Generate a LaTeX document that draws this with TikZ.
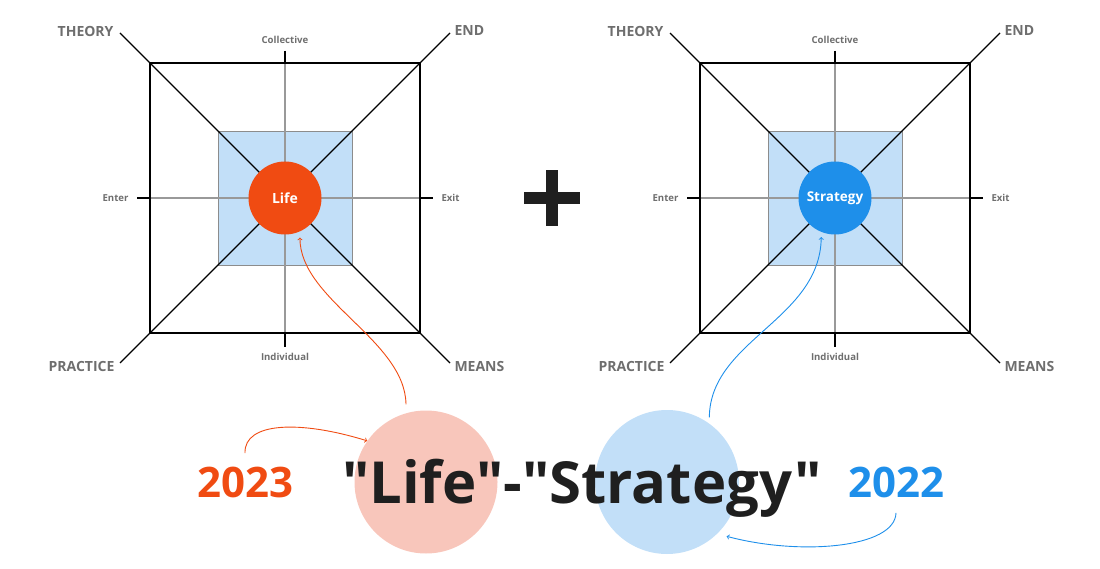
\documentclass[tikz,border=0pt]{standalone}
\usepackage{fontspec}
\setmainfont[Ligatures=TeXOff]{Open Sans}

\definecolor{naranja}{HTML}{F04B12}
\definecolor{azul}{HTML}{1E8FEA}
\definecolor{celeste}{HTML}{C2DFF8}
\definecolor{rosa}{HTML}{F8C6BB}
\definecolor{gristexto}{HTML}{6E6E6E}

\tikzset{
  eje/.style={line width=1.2pt, gray!80},
  marco/.style={line width=1.2pt, black},
  etiqueta/.style={font=\fontsize{9.6}{9.6}\selectfont\bfseries, text=gristexto},
  polo/.style={font=\fontsize{14}{14}\selectfont\bfseries, text=gristexto},
  centro/.style={circle, minimum size=73, inner sep=0, text=white},
  flecha/.style={->, line width=0.9pt}
}

\begin{document}
\begin{tikzpicture}[x=1pt, y=-1pt]
\useasboundingbox (0,0) rectangle (1100,569);

% ── Los dos cuadros (Life / Strategy) ─────────────────────────
\foreach \cx/\nm/\txt/\col/\tam in {285/life/Life/naranja/14, 835/strat/Strategy/azul/13.5} {
  \begin{scope}[shift={(\cx,198)}]
    % cuadro interior
    \fill[celeste] (-67,-67) rectangle (67,67);
    \draw[gray!90, line width=0.9pt] (-67,-67) rectangle (67,67);
    % ejes
    \draw[eje] (-148,0) -- (148,0);
    \draw[eje] (0,-147) -- (0,149);
    \draw[marco] (-148,0) -- (-135,0);
    \draw[marco] (135,0) -- (148,0);
    \draw[marco] (0,-147) -- (0,-135);
    \draw[marco] (0,135) -- (0,149);
    % diagonales
    \draw[marco] (-165,-165) -- (165,165);
    \draw[marco] (-165,165) -- (165,-165);
    % cuadro exterior
    \draw[marco] (-135,-135) rectangle (135,135);
    % círculo central
    \node[centro, fill=\col, font=\fontsize{\tam}{\tam}\selectfont\bfseries] (\nm) at (0,0) {\txt};
    % etiquetas de los ejes
    \node[etiqueta] (\nm-col) at (0,-158) {Collective};
    \node[etiqueta] (\nm-ind) at (0,159) {Individual};
    \node[etiqueta, anchor=east] (\nm-ent) at (-153,0) {Enter};
    \node[etiqueta, anchor=west] (\nm-exi) at (153,0) {Exit};
    % etiquetas de las diagonales
    \node[polo, anchor=east] (\nm-teo) at (-168,-167) {THEORY};
    \node[polo, anchor=west] (\nm-fin) at (166,-167) {END};
    \node[polo, anchor=east] (\nm-pra) at (-167,168) {PRACTICE};
    \node[polo, anchor=west] (\nm-med) at (166,168) {MEANS};
  \end{scope}
}

% ── Signo más ─────────────────────────────────────────────────
\fill[black!88] (546,170) rectangle (558,226);
\fill[black!88] (524,192) rectangle (580,204);

% ── Círculos de fondo del título ──────────────────────────────
\node[circle, fill=rosa, minimum size=143, inner sep=0] (circrosa) at (426,482) {};
\node[circle, fill=celeste, minimum size=144, inner sep=0] (circceleste) at (667,482) {};

% ── Título y años ─────────────────────────────────────────────
\node[anchor=base, text=black!88, font=\fontsize{58}{58}\selectfont\bfseries]
    (titulo) at (582,503) {"Life"-"Strategy"};
\node[anchor=base, text=naranja, font=\fontsize{42}{42}\selectfont\bfseries]
    (anio23) at (245,497) {2023};
\node[anchor=base, text=azul, font=\fontsize{42}{42}\selectfont\bfseries]
    (anio22) at (896,497) {2022};

% ── Flechas naranjas ──────────────────────────────────────────
\draw[flecha, naranja] ([yshift=10pt]anio23.north) .. controls (244,422) and (300,420)
    .. (circrosa.145);
\draw[flecha, naranja] ([shift={(-20pt,6pt)}]circrosa.north) .. controls (405,340) and (300,300)
    .. ([yshift=-6pt]life.-66);

% ── Flechas azules ────────────────────────────────────────────
\draw[flecha, azul] ([shift={(3pt,4pt)}]circceleste.57) .. controls (710,340) and (820,320)
    .. ([yshift=-5pt]strat.-112);
\draw[flecha, azul] ([yshift=-12pt]anio22.south) .. controls (895,548) and (800,556)
    .. ([shift={(6pt,-6pt)}]circceleste.-42);

\end{tikzpicture}
\end{document}
